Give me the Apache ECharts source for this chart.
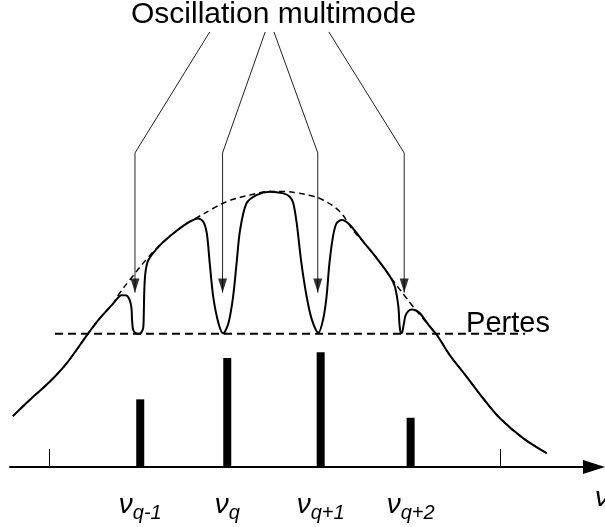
<!DOCTYPE html>
<html>
<head>
<meta charset="utf-8">
<script src="https://cdn.jsdelivr.net/npm/echarts@6/dist/echarts.min.js"></script>
<style>
html,body{margin:0;padding:0;background:#fff;}
#c{width:605px;height:527px;}
</style>
</head>
<body>
<div id="c"></div>
<script>
// Gain curve with hole burning (solid)
const gainX = [0.5,4.0,6.8,9.7,13.4,15.4,17.7,19.1,19.9,20.5,20.8,20.9,21.1,21.6,22.0,22.4,22.8,22.9,23.0,23.2,23.7,25.7,28.0,30.3,32.2,33.1,33.7,34.2,34.8,35.7,36.5,37.4,38.2,38.8,39.4,40.5,42.2,44.5,46.8,47.9,48.5,49.1,49.9,50.8,51.7,52.8,53.6,54.2,54.7,55.3,55.9,56.8,58.2,60.5,62.8,65.1,65.9,66.5,66.7,66.9,67.1,67.4,67.7,68.2,68.8,69.5,70.2,71.9,73.1,75.3,78.2,81.0,83.9,87.9,91.9];
const gainY = [18.5,25.6,31.0,37.7,48.6,54.1,59.5,62.5,62.4,60.7,57.8,53.5,49.8,48.6,48.5,48.7,50.5,54.9,64.4,70.9,75.3,80.7,85.0,88.6,90.4,89.2,85.0,74.1,61.9,52.3,48.6,52.3,61.9,74.1,86.2,95.9,98.9,100.1,99.5,98.3,96.0,88.6,74.1,61.9,53.5,48.8,53.5,61.9,74.1,83.7,88.6,89.8,88.0,81.9,75.9,69.2,65.6,58.3,51.6,48.9,48.7,51.6,54.9,56.7,57.3,56.9,55.9,51.0,48.0,40.7,32.8,25.0,17.7,10.4,5.0];
// Unsaturated gain envelope (dashed)
const envX = [0.5,4.0,6.8,9.7,13.4,15.4,17.7,18.8,20.5,23.4,25.7,28.0,30.3,32.2,34.6,37.1,41.1,44.5,47.1,49.1,51.4,53.6,56.5,58.7,60.5,62.8,65.1,66.4,67.6,68.8,70.2,73.1,75.3,78.2,81.0,83.9,87.9,91.9];
const envY = [18.5,25.6,31.0,37.7,48.6,54.1,59.6,63.3,68.0,75.6,80.7,85.0,88.6,90.9,93.8,96.5,98.9,100.2,100.2,99.7,98.7,97.1,92.8,86.2,81.9,75.9,69.2,65.5,62.2,58.9,55.3,48.0,40.7,32.8,25.0,17.7,10.4,5.0];
// Losses level
const lossLevel = 48.5;
const lossStartX = 7.7;
const lossEndX = 88.2;
// Oscillating modes
const modeX = [22.3, 37.2, 53.2, 68.6];
const modeY = [24.6, 39.6, 41.7, 17.9];
const modeLabels = ['q-1', 'q', 'q+1', 'q+2'];
const tickValues = [6.8, 83.9];
// Annotation arrows
const arrowStartX = [34.2, 43.7, 45.2, 54.6];
const arrowX = [21.4, 36.4, 52.7, 67.5];
const arrowStartY = 158.2;
const arrowBendY = 114.2;
const arrowTipY = 63.4;
const arrowHeadY = 66.0;

const FONT = '"Liberation Sans", Arial, sans-serif';
const zip = (xs, ys) => xs.map((x, i) => [x, ys[i]]);

const chart = echarts.init(document.getElementById('c'), null, {renderer: 'canvas'});

const arrowSeries = arrowX.map((x, i) => ({
  type: 'line',
  data: [[arrowStartX[i], arrowStartY], [x, arrowBendY], [x, arrowTipY]],
  symbol: 'none',
  lineStyle: {color: '#222', width: 1},
  z: 5,
  silent: true
}));

chart.setOption({
  animation: false,
  backgroundColor: '#fff',
  title: {
    text: 'Oscillation multimode',
    left: 131,
    top: 0,
    padding: 0,
    textStyle: {fontFamily: FONT, fontSize: 30, fontWeight: 'normal', color: '#000'}
  },
  graphic: [{
    type: 'text',
    left: 595,
    top: 484,
    style: {text: 'ν', fontFamily: FONT, fontStyle: 'italic', fontSize: 28, fill: '#000'}
  }],
  grid: {left: 10, right: 11, top: 27, bottom: 60},
  xAxis: {
    type: 'value',
    min: 0,
    max: 100,
    axisLine: {
      show: true,
      symbol: ['none', 'triangle'],
      symbolSize: [14, 22],
      lineStyle: {color: '#000', width: 2}
    },
    axisTick: {show: true, inside: true, length: 18, customValues: tickValues, lineStyle: {color: '#000', width: 1}},
    axisLabel: {
      show: true,
      customValues: modeX,
      margin: 21,
      formatter: function (v) {
        let best = 0;
        modeX.forEach((m, i) => { if (Math.abs(m - v) < Math.abs(modeX[best] - v)) best = i; });
        return '{n|ν}{s|' + modeLabels[best] + '}';
      },
      rich: {
        n: {fontFamily: FONT, fontStyle: 'italic', fontSize: 28, color: '#000'},
        s: {fontFamily: FONT, fontStyle: 'italic', fontSize: 20, color: '#000', padding: [15, 0, 0, 0]}
      }
    },
    splitLine: {show: false}
  },
  yAxis: {type: 'value', min: 0, max: 160, show: false},
  series: [
    {
      type: 'line',
      data: zip(envX, envY),
      smooth: 0.4,
      symbol: 'none',
      lineStyle: {color: '#000', width: 1.5, type: [6, 4]},
      z: 2
    },
    {
      type: 'line',
      data: zip(gainX, gainY),
      smooth: 0.3,
      symbol: 'none',
      lineStyle: {color: '#000', width: 2},
      z: 3
    },
    {
      type: 'line',
      data: [[lossStartX, lossLevel], [lossEndX, lossLevel]],
      symbol: 'none',
      lineStyle: {color: '#000', width: 2, type: [8, 5]},
      endLabel: {
        show: true,
        formatter: 'Pertes',
        offset: [-67, -10],
        fontFamily: FONT,
        fontSize: 29,
        color: '#000'
      },
      z: 4
    },
    {
      type: 'bar',
      data: zip(modeX, modeY),
      barWidth: 8,
      itemStyle: {color: '#000'},
      z: 4
    },
    ...arrowSeries,
    {
      type: 'scatter',
      data: arrowX.map(x => [x, arrowHeadY]),
      symbol: 'triangle',
      symbolRotate: 180,
      symbolSize: [9, 14],
      itemStyle: {color: '#000'},
      z: 6,
      silent: true
    }
  ]
});
</script>
</body>
</html>
